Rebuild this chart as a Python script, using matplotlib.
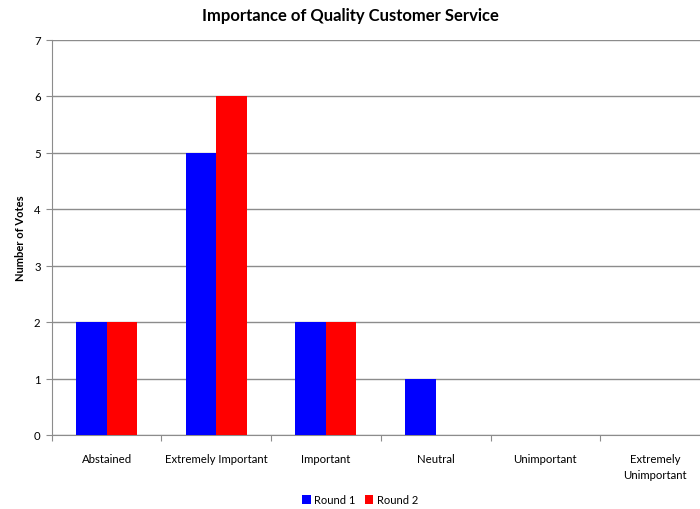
import matplotlib.pyplot as plt
import numpy as np

# data
categories = ["Abstained", "Extremely Important", "Important", "Neutral",
              "Unimportant", "Extremely\nUnimportant"]
round1 = [2, 5, 2, 1, 0, 0]
round2 = [2, 6, 2, 0, 0, 0]

plt.rcParams["font.family"] = ["Lato", "DejaVu Sans"]

fig = plt.figure(figsize=(7, 5.1), dpi=100)
ax = fig.add_axes([51.7 / 700, 1 - 436 / 510, (710 - 51.7) / 700, (436 - 40.5) / 510])

x = np.arange(len(categories))
w = 0.278
ax.bar(x - w / 2, round1, width=w, color="#0000ff", label="Round 1", zorder=3)
ax.bar(x + w / 2, round2, width=w, color="#ff0000", label="Round 2", zorder=3)

ax.set_xlim(-0.5, len(categories) - 0.5)
ax.set_ylim(0, 7)
ax.set_yticks(range(8))
ax.yaxis.grid(True, color="#8c8c8c", linewidth=1)
ax.set_axisbelow(True)

# category boundary ticks
ax.set_xticks(np.arange(len(categories) + 1) - 0.5)
ax.set_xticklabels([])
ax.set_xticks(x, minor=True)
ax.set_xticklabels(categories, minor=True, linespacing=1.5)
ax.tick_params(axis="x", which="minor", length=0, pad=13, labelsize=8.2)
ax.tick_params(axis="x", which="major", length=4, color="#8c8c8c")
ax.tick_params(axis="y", length=4, color="#8c8c8c", labelsize=8.2, pad=4)

for side in ["top", "right"]:
    ax.spines[side].set_visible(False)
for side in ["left", "bottom"]:
    ax.spines[side].set_color("#8c8c8c")

ax.set_ylabel("Number of Votes", fontsize=8, fontweight="bold", labelpad=6)
fig.suptitle("Importance of Quality Customer Service", x=0.5, y=0.985,
             fontsize=12, fontweight="bold")

fig.legend(loc="center", bbox_to_anchor=(360 / 700, 1 - 501 / 510), ncol=2,
           frameon=False, fontsize=8, handlelength=0.8, handleheight=0.8,
           handletextpad=0.3, columnspacing=0.8)

fig.savefig("out.png", dpi=100)
